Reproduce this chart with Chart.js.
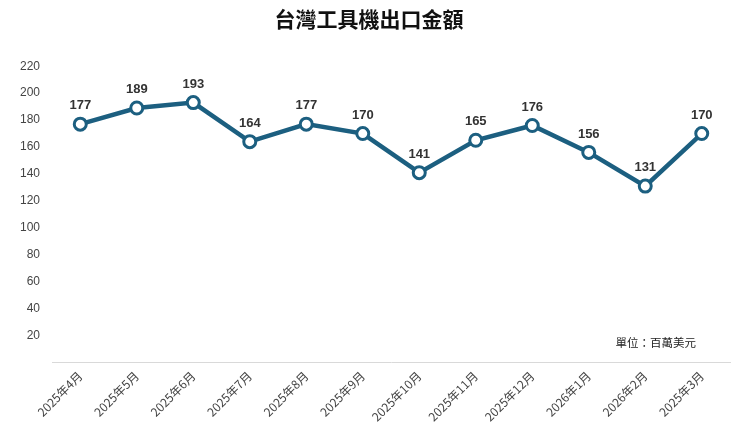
<!DOCTYPE html>
<html>
<head>
<meta charset="utf-8">
<script src="https://cdn.jsdelivr.net/npm/chart.js@4"></script>
<style>
  html, body { margin: 0; padding: 0; background: #fff; }
  #wrap { width: 745px; height: 443px; }
</style>
</head>
<body>
<div id="wrap"><canvas id="myChart"></canvas></div>
<script>
// data
const months = ['2025年4月', '2025年5月', '2025年6月', '2025年7月', '2025年8月', '2025年9月',
  '2025年10月', '2025年11月', '2025年12月', '2026年1月', '2026年2月', '2025年3月'];
const exportValue = [177, 189, 193, 164, 177, 170, 141, 165, 176, 156, 131, 170];
const yTicks = [0, 20, 40, 60, 80, 100, 120, 140, 160, 180, 200, 220];

const lineColor = '#1c5f80';
const cjk = '"Noto Sans CJK TC", "Noto Sans", sans-serif';

// value labels above points + unit note
const labelPlugin = {
  id: 'valueLabels',
  afterDatasetsDraw(chart) {
    const ctx = chart.ctx;
    const meta = chart.getDatasetMeta(0);
    ctx.save();
    ctx.fillStyle = '#333';
    ctx.font = 'bold 13px "Liberation Sans", Arial, sans-serif';
    ctx.textAlign = 'center';
    ctx.textBaseline = 'bottom';
    meta.data.forEach((pt, i) => {
      ctx.fillText(exportValue[i], pt.x, pt.y - 12);
    });
    ctx.font = '11.5px ' + cjk;
    ctx.textAlign = 'right';
    ctx.textBaseline = 'middle';
    ctx.fillStyle = '#222';
    ctx.fillText('單位：百萬美元', chart.chartArea.right - 34, chart.scales.y.getPixelForValue(15));
    ctx.restore();
  }
};

const myChart = new Chart(document.getElementById('myChart'), {
  type: 'line',
  data: {
    labels: months,
    datasets: [{
      data: exportValue,
      borderColor: lineColor,
      borderWidth: 4.5,
      pointRadius: 6,
      pointHoverRadius: 6,
      pointBackgroundColor: '#fff',
      pointBorderColor: lineColor,
      pointBorderWidth: 3,
      tension: 0
    }]
  },
  options: {
    responsive: true,
    maintainAspectRatio: false,
    animation: false,
    layout: { padding: { left: 8, right: 15, top: 0, bottom: 13 } },
    plugins: {
      legend: { display: false },
      tooltip: { enabled: false },
      title: {
        display: true,
        text: '台灣工具機出口金額',
        color: '#111',
        font: { family: cjk, size: 21, weight: 'bold' },
        padding: { top: 6, bottom: 35 }
      }
    },
    scales: {
      x: {
        offset: true,
        grid: { display: false, drawTicks: false },
        border: { display: true, color: '#d9d9d9', width: 1 },
        ticks: {
          color: '#444',
          font: { family: cjk, size: 12 },
          maxRotation: 45,
          minRotation: 45,
          padding: 6
        }
      },
      y: {
        min: 0,
        max: 220,
        afterBuildTicks(axis) { axis.ticks = yTicks.map(v => ({ value: v })); },
        grid: { display: false, drawTicks: false },
        border: { display: false },
        ticks: {
          color: '#444',
          font: { family: '"Liberation Sans", Arial, sans-serif', size: 12 },
          padding: 12,
          callback: v => v === 0 ? '' : v
        }
      }
    }
  },
  plugins: [labelPlugin]
});
</script>
</body>
</html>
